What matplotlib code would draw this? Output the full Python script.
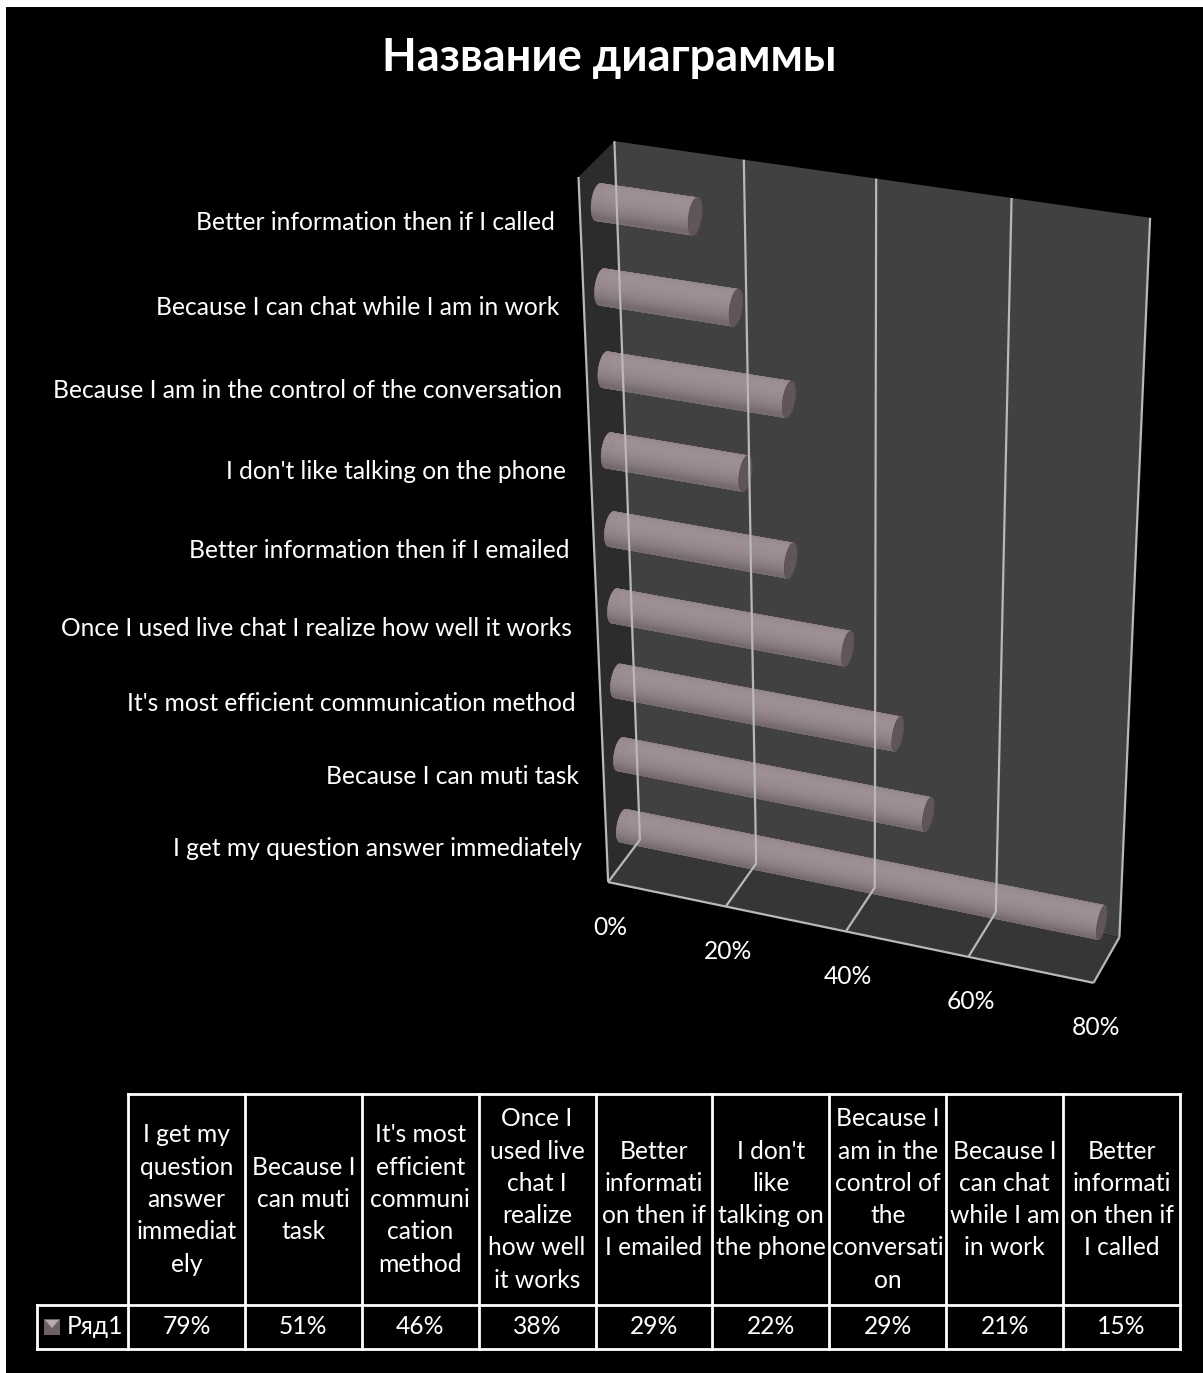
import numpy as np
import matplotlib.pyplot as plt
from matplotlib.patches import Polygon, Rectangle

plt.rcParams['font.family'] = ['Lato', 'Open Sans', 'DejaVu Sans']

title = 'Название диаграммы'
series_name = 'Ряд1'
categories = [
    'I get my question answer immediately',
    'Because I can muti task',
    "It's most efficient communication method",
    'Once I used live chat I realize how well it works',
    'Better information then if I emailed',
    "I don't like talking on the phone",
    'Because I am in the control of the conversation',
    'Because I can chat while I am in work',
    'Better information then if I called',
]
values = [79, 51, 46, 38, 29, 22, 29, 21, 15]   # percent
value_ticks = [0, 20, 40, 60, 80]
header_labels = [
    'I get my\nquestion\nanswer\nimmediat\nely',
    'Because I\ncan muti\ntask',
    "It's most\nefficient\ncommuni\ncation\nmethod",
    'Once I\nused live\nchat I\nrealize\nhow well\nit works',
    'Better\ninformati\non then if\nI emailed',
    "I don't\nlike\ntalking on\nthe phone",
    'Because I\nam in the\ncontrol of\nthe\nconversati\non',
    'Because I\ncan chat\nwhile I am\nin work',
    'Better\ninformati\non then if\nI called',
]

W, H = 1203, 1373
VMAX = 80
n_cat = len(categories)
FS = 17.7

# plot box corners (value, height, depth) -> canvas pixel, depth 0 = front
box_pts = [
    ((0, 1, 1), (616, 141)),
    ((80, 1, 1), (1150, 218)),
    ((80, 0, 1), (1120, 935)),
    ((0, 0, 1), (638, 842)),
    ((0, 0, 0), (610, 880)),
    ((80, 0, 0), (1093, 985)),
    ((0, 1, 0), (577, 177)),
]


def fit_camera(pairs):
    uv = np.array([p for _, p in pairs], float)
    mu = uv.mean(0)
    s = uv.std()
    T = np.array([[1 / s, 0, -mu[0] / s], [0, 1 / s, -mu[1] / s], [0, 0, 1]])
    rows = []
    for (X, Y, Z), (u, v) in pairs:
        X = X / VMAX
        u, v = (u - mu[0]) / s, (v - mu[1]) / s
        rows.append([X, Y, Z, 1, 0, 0, 0, 0, -u * X, -u * Y, -u * Z, -u])
        rows.append([0, 0, 0, 0, X, Y, Z, 1, -v * X, -v * Y, -v * Z, -v])
    _, _, vt = np.linalg.svd(np.array(rows))
    P = np.linalg.inv(T) @ vt[-1].reshape(3, 4)
    if (P @ np.array([0.5, 0.5, 0.5, 1]))[2] < 0:
        P = -P
    return P


P = fit_camera(box_pts)


def proj(x, y, z):
    x, y, z = np.broadcast_arrays(np.asarray(x, float) / VMAX,
                                  np.asarray(y, float), np.asarray(z, float))
    p = P @ np.vstack([x.ravel(), y.ravel(), z.ravel(), np.ones(x.size)])
    return p[0] / p[2], p[1] / p[2], p[2]


def face(ax, pts, color, **kw):
    pts = np.array(pts, float).T
    u, v, _ = proj(pts[0], pts[1], pts[2])
    ax.add_patch(Polygon(np.c_[u, v], closed=True, facecolor=color,
                         edgecolor='none', **kw))


def line3(ax, a, b, color='#b8b8b8', lw=1.6):
    u, v, _ = proj([a[0], b[0]], [a[1], b[1]], [a[2], b[2]])
    ax.plot(u, v, color=color, lw=lw, solid_capstyle='butt')


fig = plt.figure(figsize=(W / 100, H / 100), dpi=100, facecolor='white')
ax = fig.add_axes([0, 0, 1, 1])
ax.set_xlim(0, W)
ax.set_ylim(H, 0)
ax.axis('off')
ax.add_patch(Rectangle((6, 7), W - 6, H - 7, facecolor='black', edgecolor='none'))

ax.text(609, 58, title, color='white', fontsize=32.5, fontweight='bold',
        ha='center', va='center')

# walls and floor
face(ax, [(0, 0, 1), (80, 0, 1), (80, 1, 1), (0, 1, 1)], '#414141')
face(ax, [(0, 0, 0), (0, 0, 1), (0, 1, 1), (0, 1, 0)], '#2c2c2c')
face(ax, [(0, 0, 0), (80, 0, 0), (80, 0, 1), (0, 0, 1)], '#363636')

for t in value_ticks:
    line3(ax, (t, 0, 1), (t, 1, 1))
    line3(ax, (t, 0, 0), (t, 0, 1))
line3(ax, (0, 0, 0), (0, 1, 0))
line3(ax, (0, 0, 0), (80, 0, 0))

# cylinders
base = np.array([160, 144, 152]) / 255
light = np.array([0, 0.9, -0.45])
light /= np.linalg.norm(light)
th = np.linspace(0, 2 * np.pi, 73)
ry = 0.2 / n_cat
rz = 0.2
for i, val in enumerate(values):
    yc = (i + 0.5) / n_cat
    zc = 0.5
    cy = yc + ry * np.cos(th)
    cz = zc + rz * np.sin(th)
    facets = []
    for k in range(len(th) - 1):
        u, v, d = proj([0, val, val, 0], [cy[k], cy[k], cy[k + 1], cy[k + 1]],
                       [cz[k], cz[k], cz[k + 1], cz[k + 1]])
        tm = 0.5 * (th[k] + th[k + 1])
        lit = max(0.0, np.dot([0, np.cos(tm), np.sin(tm)], light))
        col = np.clip(base * (0.74 + 0.26 * lit), 0, 1)
        facets.append((d.mean(), np.c_[u, v], col))
    for _, poly, col in sorted(facets, key=lambda f: -f[0]):
        ax.add_patch(Polygon(poly, closed=True, facecolor=col, edgecolor=col, lw=0.4))
    u, v, _ = proj(np.full_like(th, val), cy, cz)
    ax.add_patch(Polygon(np.c_[u, v], closed=True, facecolor='#5f555a',
                         edgecolor='#574e53', lw=0.6))

# category labels along the left edge
for i, name in enumerate(categories):
    u, v, _ = proj(0, (i + 0.5) / n_cat, 0)
    ax.text(u[0] - 25, v[0] + 2, name, color='white', fontsize=FS,
            ha='right', va='center')

# value axis labels under the floor front edge
for t in value_ticks:
    u, v, _ = proj(t, 0, 0)
    ax.text(u[0] + 2, v[0] + 45, f'{t}%', color='white', fontsize=FS,
            ha='center', va='center')

# data table
tx0, tx1 = 128, 1180
ty0, ty1, ty2 = 1094, 1305, 1349
lx0 = 37
cw = (tx1 - tx0) / n_cat
lkw = dict(color='white', lw=2, solid_capstyle='projecting')
ax.plot([tx0, tx1], [ty0, ty0], **lkw)
ax.plot([lx0, tx1], [ty1, ty1], **lkw)
ax.plot([lx0, tx1], [ty2, ty2], **lkw)
ax.plot([lx0, lx0], [ty1, ty2], **lkw)
for k in range(n_cat + 1):
    ax.plot([tx0 + k * cw] * 2, [ty0, ty2], **lkw)

line_gap = 32.3
for k, lab in enumerate(header_labels):
    lines = lab.split('\n')
    cx = tx0 + (k + 0.5) * cw
    y0 = 0.5 * (ty0 + ty1) - 0.5 * (len(lines) - 1) * line_gap
    for j, s in enumerate(lines):
        ax.text(cx, y0 + j * line_gap, s, color='white', fontsize=FS,
                ha='center', va='center')
    ax.text(cx, 0.5 * (ty1 + ty2), f'{values[k]}%', color='white',
            fontsize=FS, ha='center', va='center')

# legend key
ax.add_patch(Rectangle((44, 1319), 16, 16, facecolor='#6d6167', edgecolor='none'))
ax.add_patch(Polygon([(45, 1320), (59, 1320), (52, 1328)], closed=True,
                     facecolor='#b9aab2', edgecolor='none'))
ax.text(67, 0.5 * (ty1 + ty2), series_name, color='white', fontsize=FS,
        ha='left', va='center')

fig.savefig('out.png', dpi=100, facecolor='white')
